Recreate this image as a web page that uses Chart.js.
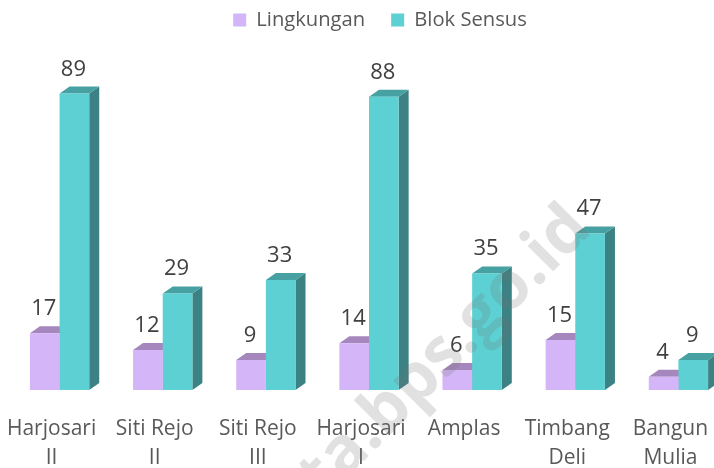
<!DOCTYPE html>
<html>
<head>
<meta charset="utf-8">
<script src="https://cdn.jsdelivr.net/npm/chart.js@4"></script>
<style>
    html, body { margin: 0; padding: 0; background: #fff; overflow: hidden; }
    #wrap { width: 714px; height: 468px; overflow: hidden; }
</style>
</head>
<body>
<div id="wrap"><canvas id="chart" width="760" height="468"></canvas></div>
<script>
const categories = [
    ['Harjosari', 'II'],
    ['Siti Rejo', 'II'],
    ['Siti Rejo', 'III'],
    ['Harjosari', 'I'],
    ['Amplas'],
    ['Timbang', 'Deli'],
    ['Bangun', 'Mulia'],
];
const lingkungan = [17, 12, 9, 14, 6, 15, 4];
const blokSensus = [89, 29, 33, 88, 35, 47, 9];
const watermark = 'ta.bps.go.id';

const DEPTH_X = 10;
const DEPTH_Y = 7;
const FONT = '"Open Sans", sans-serif';

function face(ctx, points, color) {
    ctx.fillStyle = color;
    ctx.beginPath();
    points.forEach((p, i) => (i ? ctx.lineTo(p[0], p[1]) : ctx.moveTo(p[0], p[1])));
    ctx.closePath();
    ctx.fill();
}

// legend sits a bit right of the plot centre in the original
const legendShift = {
    id: 'legendShift',
    afterLayout(chart) {
        chart.legend.left += 11;
        chart.legend.right += 11;
    },
};

// top and side faces of the 3d columns, behind the bars themselves
const depthFaces = {
    id: 'depthFaces',
    beforeDatasetsDraw(chart) {
        const ctx = chart.ctx;
        chart.data.datasets.forEach((ds, i) => {
            chart.getDatasetMeta(i).data.forEach((bar) => {
                const left = bar.x - bar.width / 2;
                const right = bar.x + bar.width / 2;
                face(ctx, [[right, bar.y], [right + DEPTH_X, bar.y - DEPTH_Y],
                    [right + DEPTH_X, bar.base - DEPTH_Y], [right, bar.base]], ds.sideColor);
                face(ctx, [[left, bar.y], [left + DEPTH_X, bar.y - DEPTH_Y],
                    [right + DEPTH_X, bar.y - DEPTH_Y], [right, bar.y]], ds.topColor);
            });
        });
    },
};

const valueLabels = {
    id: 'valueLabels',
    afterDatasetsDraw(chart) {
        const ctx = chart.ctx;
        ctx.save();
        ctx.font = '22px ' + FONT;
        ctx.fillStyle = '#404040';
        ctx.textAlign = 'center';
        ctx.textBaseline = 'alphabetic';
        chart.data.datasets.forEach((ds, i) => {
            chart.getDatasetMeta(i).data.forEach((bar, j) => {
                ctx.fillText(ds.data[j], bar.x - 1, bar.y - 18);
            });
        });
        ctx.restore();
    },
};

const watermarkText = {
    id: 'watermarkText',
    afterDraw(chart) {
        const ctx = chart.ctx;
        ctx.save();
        ctx.translate(580, 218);
        ctx.rotate(-Math.PI / 4);
        ctx.font = 'bold 66px ' + FONT;
        ctx.fillStyle = 'rgba(120, 120, 120, 0.22)';
        ctx.textAlign = 'right';
        ctx.textBaseline = 'middle';
        ctx.fillText(watermark, 0, 0);
        ctx.restore();
    },
};

new Chart(document.getElementById('chart'), {
    type: 'bar',
    data: {
        labels: categories,
        datasets: [
            {
                label: 'Lingkungan',
                data: lingkungan,
                backgroundColor: '#D3B5F8',
                topColor: '#A587BD',
                sideColor: '#A587BD',
            },
            {
                label: 'Blok Sensus',
                data: blokSensus,
                backgroundColor: '#5CD0D3',
                topColor: '#47A0A2',
                sideColor: '#3C8183',
            },
        ],
    },
    options: {
        responsive: false,
        animation: false,
        layout: { padding: { left: 8, right: 30, top: -16, bottom: 0 } },
        datasets: { bar: { categoryPercentage: 0.575, barPercentage: 1 } },
        plugins: {
            tooltip: { enabled: false },
            legend: {
                position: 'top',
                labels: {
                    boxWidth: 13,
                    boxHeight: 13,
                    padding: 26,
                    color: '#595959',
                    font: { family: FONT, size: 20.2 },
                },
            },
        },
        scales: {
            x: {
                grid: { display: false },
                border: { display: false },
                afterFit(scale) {
                    scale.height = 78;
                    scale.paddingLeft = 0;
                    scale.paddingRight = 0;
                },
                ticks: {
                    autoSkip: false,
                    maxRotation: 0,
                    padding: 16,
                    labelOffset: -8,
                    color: '#595959',
                    font: { family: FONT, size: 21, lineHeight: 1.4 },
                },
            },
            y: { display: false, min: 0, max: 105 },
        },
    },
    plugins: [legendShift, depthFaces, valueLabels, watermarkText],
});
</script>
</body>
</html>
